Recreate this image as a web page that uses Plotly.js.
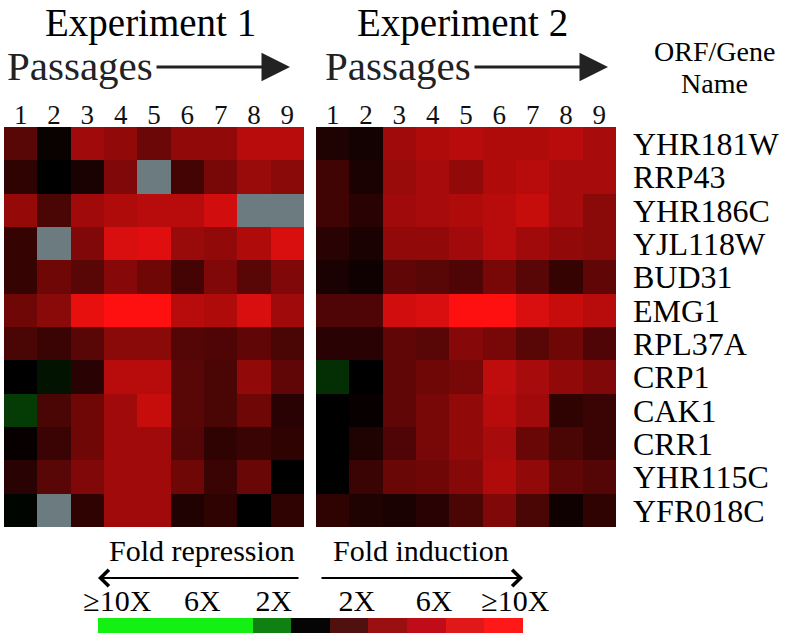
<!DOCTYPE html>
<html>
<head>
<meta charset="utf-8">
<script src="https://cdn.plot.ly/plotly-3.0.1.min.js"></script>
<style>html,body{margin:0;padding:0;background:#fff;}#chart{width:788px;height:636px;}</style>
</head>
<body>
<div id="chart"></div>
<script>
// Passages (columns) and ORF / gene names (rows)
const passages = [1, 2, 3, 4, 5, 6, 7, 8, 9];
const genes = ["YHR181W", "RRP43", "YHR186C", "YJL118W", "BUD31", "EMG1",
               "RPL37A", "CRP1", "CAK1", "CRR1", "YHR115C", "YFR018C"];

// Relative expression, signed: -1 = >=10X repression, 0 = no change, +1 = >=10X induction.
// null = missing measurement (grey).
const exp1 = [
  [0.35, 0.04, 0.63, 0.57, 0.42, 0.57, 0.57, 0.72, 0.72],
  [0.19, 0.00, 0.10, 0.50, null, 0.27, 0.47, 0.60, 0.54],
  [0.59, 0.29, 0.63, 0.69, 0.72, 0.72, 0.82, null, null],
  [0.21, null, 0.50, 0.85, 0.88, 0.60, 0.57, 0.69, 0.85],
  [0.21, 0.44, 0.35, 0.53, 0.44, 0.27, 0.50, 0.35, 0.50],
  [0.44, 0.54, 0.91, 1.00, 1.00, 0.72, 0.69, 0.85, 0.63],
  [0.29, 0.23, 0.35, 0.54, 0.54, 0.33, 0.31, 0.38, 0.29],
  [0.00, -0.08, 0.16, 0.72, 0.72, 0.35, 0.29, 0.57, 0.38],
  [-0.25, 0.29, 0.44, 0.63, 0.78, 0.35, 0.29, 0.44, 0.16],
  [0.03, 0.23, 0.44, 0.63, 0.63, 0.33, 0.19, 0.23, 0.19],
  [0.16, 0.35, 0.50, 0.63, 0.63, 0.44, 0.23, 0.41, 0.00],
  [-0.02, null, 0.19, 0.63, 0.63, 0.13, 0.19, 0.00, 0.19]
];
const exp2 = [
  [0.12, 0.08, 0.63, 0.69, 0.72, 0.69, 0.69, 0.72, 0.66],
  [0.25, 0.10, 0.60, 0.66, 0.57, 0.69, 0.72, 0.66, 0.66],
  [0.25, 0.16, 0.63, 0.66, 0.69, 0.72, 0.78, 0.66, 0.54],
  [0.16, 0.10, 0.57, 0.57, 0.63, 0.72, 0.63, 0.57, 0.54],
  [0.10, 0.06, 0.38, 0.35, 0.31, 0.47, 0.35, 0.21, 0.38],
  [0.31, 0.31, 0.82, 0.85, 1.00, 1.00, 0.85, 0.78, 0.72],
  [0.16, 0.16, 0.38, 0.35, 0.53, 0.47, 0.35, 0.44, 0.31],
  [-0.19, 0.00, 0.38, 0.44, 0.47, 0.75, 0.66, 0.57, 0.50],
  [0.00, 0.03, 0.38, 0.47, 0.57, 0.72, 0.63, 0.19, 0.23],
  [0.00, 0.12, 0.31, 0.47, 0.57, 0.66, 0.41, 0.29, 0.23],
  [0.00, 0.23, 0.41, 0.44, 0.53, 0.69, 0.57, 0.38, 0.33],
  [0.19, 0.12, 0.10, 0.16, 0.29, 0.50, 0.29, 0.06, 0.19]
];

// Legend bar (11 discrete steps) and its labels
const legendSteps = [0, 1, 2, 3, 4, 5, 6, 7, 8, 9, 10];
const legendColors = ["#14f014", "#14f014", "#14f014", "#14f014", "#108010", "#050505",
                      "#501010", "#9a1010", "#c00c18", "#e01818", "#ff1818"];
const legendTickVals = [0, 2.2, 4.05, 6.2, 8.2, 10.3];
const legendTickText = ["\u226510X", "6X", "2X", "2X", "6X", "\u226510X"];

const FONT = "Liberation Serif, Times New Roman, serif";
const W = 788, H = 636;
const px = x => x / W;
const py = y => 1 - y / H;

const scale = [[0, "#14f014"], [0.5, "#000000"], [1, "#ff1010"]];
const grey = "#6b7b7f";
const missing = m => m.map(r => r.map(v => (v === null ? 1 : null)));

const discrete = [];
legendColors.forEach((c, i) => {
  discrete.push([i / legendColors.length, c]);
  discrete.push([(i + 1) / legendColors.length, c]);
});

const traces = [
  {type: "heatmap", x: passages, y: genes, z: exp1, xaxis: "x", yaxis: "y",
   colorscale: scale, zmin: -1, zmax: 1, showscale: false, hoverongaps: false},
  {type: "heatmap", x: passages, y: genes, z: missing(exp1), xaxis: "x", yaxis: "y",
   colorscale: [[0, grey], [1, grey]], zmin: 0, zmax: 1, showscale: false, hoverongaps: false},
  {type: "heatmap", x: passages, y: genes, z: exp2, xaxis: "x2", yaxis: "y2",
   colorscale: scale, zmin: -1, zmax: 1, showscale: false, hoverongaps: false},
  {type: "heatmap", x: passages, y: genes, z: missing(exp2), xaxis: "x2", yaxis: "y2",
   colorscale: [[0, grey], [1, grey]], zmin: 0, zmax: 1, showscale: false, hoverongaps: false},
  {type: "heatmap", x: legendSteps, y: [0], z: [legendSteps], xaxis: "x3", yaxis: "y3",
   colorscale: discrete, zmin: -0.5, zmax: 10.5, showscale: false}
];

const colAxis = (dom, anchor) => ({
  domain: dom, anchor: anchor, side: "top", range: [0.5, 9.5],
  tickmode: "array", tickvals: passages, ticktext: passages.map(String), ticks: "",
  showgrid: false, zeroline: false, showline: false, fixedrange: true,
  tickfont: {family: FONT, size: 27, color: "#111"}, ticklabelstandoff: -3
});
const rowDom = [py(527), py(127)];

const layout = {
  width: W, height: H,
  margin: {l: 0, r: 0, t: 0, b: 0},
  paper_bgcolor: "#ffffff", plot_bgcolor: "#ffffff",
  showlegend: false,
  xaxis: colAxis([px(4), px(304)], "y"),
  yaxis: {domain: rowDom, anchor: "x", type: "category", autorange: "reversed",
          showticklabels: false, ticks: "", showgrid: false, zeroline: false},
  xaxis2: colAxis([px(316), px(616)], "y2"),
  yaxis2: {domain: rowDom, anchor: "x2", type: "category", autorange: "reversed",
           side: "right", ticks: "", showgrid: false, zeroline: false,
           tickmode: "array", tickvals: genes, ticktext: genes,
           tickfont: {family: FONT, size: 32, color: "#000"}, ticklabelstandoff: 16},
  xaxis3: {domain: [px(98), px(523)], anchor: "y3", side: "top", range: [-0.5, 10.5],
           tickmode: "array", tickvals: legendTickVals, ticktext: legendTickText, ticks: "",
           showgrid: false, zeroline: false, showline: false,
           tickfont: {family: FONT, size: 30, color: "#000"}, ticklabelstandoff: 0},
  yaxis3: {domain: [py(633), py(618)], anchor: "x3", showticklabels: false, ticks: "",
           showgrid: false, zeroline: false},
  annotations: [
    {text: "Experiment 1", x: px(150), y: py(0), xref: "paper", yref: "paper",
     showarrow: false, xanchor: "center", yanchor: "top", borderpad: 0,
     font: {family: FONT, size: 39, color: "#000"}},
    {text: "Experiment 2", x: px(462), y: py(0), xref: "paper", yref: "paper",
     showarrow: false, xanchor: "center", yanchor: "top", borderpad: 0,
     font: {family: FONT, size: 39, color: "#000"}},
    {text: "Passages", x: px(5), y: py(66), xref: "paper", yref: "paper",
     showarrow: false, xanchor: "left", yanchor: "middle",
     font: {family: FONT, size: 41, color: "#222"}},
    {text: "Passages", x: px(323), y: py(66), xref: "paper", yref: "paper",
     showarrow: false, xanchor: "left", yanchor: "middle",
     font: {family: FONT, size: 41, color: "#222"}},
    {text: "", x: px(290), y: py(67), xref: "paper", yref: "paper",
     showarrow: true, ax: -135, ay: 0, arrowhead: 2, arrowsize: 1.9, arrowwidth: 3,
     arrowcolor: "#222"},
    {text: "", x: px(608), y: py(67), xref: "paper", yref: "paper",
     showarrow: true, ax: -135, ay: 0, arrowhead: 2, arrowsize: 1.9, arrowwidth: 3,
     arrowcolor: "#222"},
    {text: "ORF/Gene", x: px(714), y: py(51), xref: "paper", yref: "paper",
     showarrow: false, xanchor: "center", yanchor: "middle", borderpad: 0,
     font: {family: FONT, size: 28, color: "#000"}},
    {text: "Name", x: px(714), y: py(83), xref: "paper", yref: "paper",
     showarrow: false, xanchor: "center", yanchor: "middle", borderpad: 0,
     font: {family: FONT, size: 28, color: "#000"}},
    {text: "Fold repression", x: px(202), y: py(550), xref: "paper", yref: "paper",
     showarrow: false, xanchor: "center", yanchor: "middle",
     font: {family: FONT, size: 30, color: "#000"}},
    {text: "Fold induction", x: px(421), y: py(550), xref: "paper", yref: "paper",
     showarrow: false, xanchor: "center", yanchor: "middle",
     font: {family: FONT, size: 30, color: "#000"}},
    {text: "", x: px(98), y: py(578), xref: "paper", yref: "paper",
     showarrow: true, ax: 202, ay: 0, arrowhead: 4, arrowsize: 1.6, arrowwidth: 2,
     arrowcolor: "#000"},
    {text: "", x: px(523), y: py(578), xref: "paper", yref: "paper",
     showarrow: true, ax: -203, ay: 0, arrowhead: 4, arrowsize: 1.6, arrowwidth: 2,
     arrowcolor: "#000"}
  ]
};

Plotly.newPlot("chart", traces, layout, {displayModeBar: false, staticPlot: true});
</script>
</body>
</html>
